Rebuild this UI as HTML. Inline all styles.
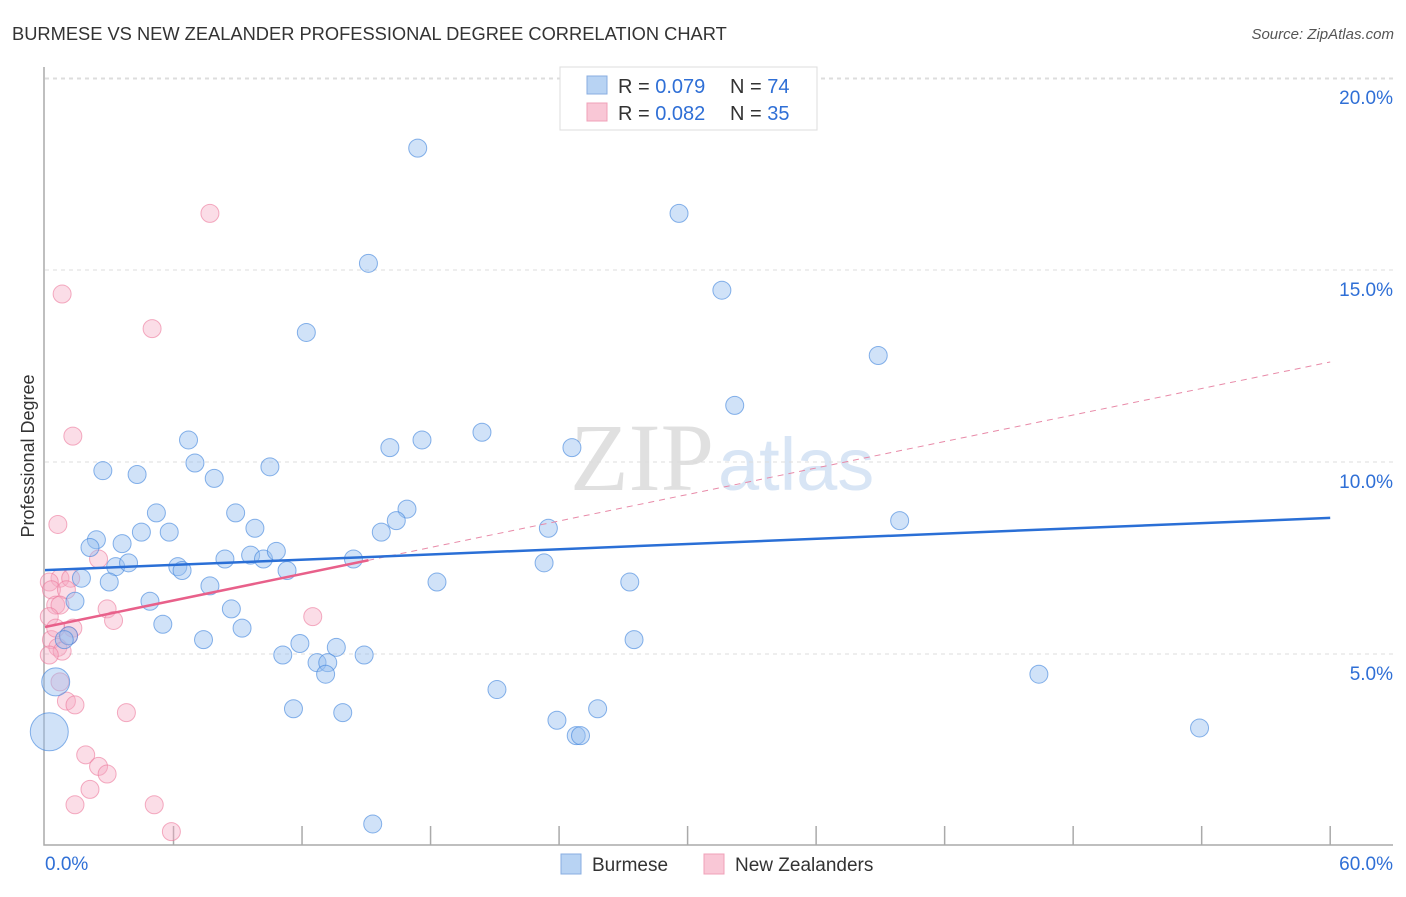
<!DOCTYPE html>
<html><head><meta charset="utf-8"><style>
body{margin:0;background:#fff;font-family:"Liberation Sans",sans-serif}
</style></head><body>
<svg width="1406" height="892" xmlns="http://www.w3.org/2000/svg">
<text x="12" y="40" font-size="18.3" fill="#333">BURMESE VS NEW ZEALANDER PROFESSIONAL DEGREE CORRELATION CHART</text>
<text x="1394" y="39" font-size="15" fill="#555" text-anchor="end" font-style="italic">Source: ZipAtlas.com</text>
<text x="714" y="490" font-size="96" fill="#e0e0e0" text-anchor="end" font-family="Liberation Serif">ZIP</text>
<text x="718" y="490" font-size="74" fill="#d8e5f5">atlas</text>
<g id="grid"></g><g id="axes"></g><g id="pts"></g><g id="lines"></g>
<text transform="translate(34,456) rotate(-90)" font-size="18" fill="#333" text-anchor="middle">Professional Degree</text>
<g>
<rect x="560" y="67" width="257" height="63" fill="#fff" stroke="#ddd"/>
<rect x="587" y="76" width="20" height="18" fill="#b8d3f3" stroke="#88aee0"/>
<rect x="587" y="103" width="20" height="18" fill="#f9c7d6" stroke="#f0a0b8"/>
<text x="618" y="93" font-size="20" fill="#333">R = <tspan fill="#2f6fd6">0.079</tspan></text>
<text x="730" y="93" font-size="20" fill="#333">N = <tspan fill="#2f6fd6">74</tspan></text>
<text x="618" y="120" font-size="20" fill="#333">R = <tspan fill="#2f6fd6">0.082</tspan></text>
<text x="730" y="120" font-size="20" fill="#333">N = <tspan fill="#2f6fd6">35</tspan></text>
</g>
<g>
<rect x="561" y="854" width="20" height="20" fill="#b8d3f3" stroke="#88aee0"/>
<text x="592" y="871" font-size="19" fill="#333">Burmese</text>
<rect x="704" y="854" width="20" height="20" fill="#f9c7d6" stroke="#f0a0b8"/>
<text x="735" y="871" font-size="19" fill="#333">New Zealanders</text>
</g>
</svg>
<script>
const yTicks=[5,10,15,20];
const yTickLabels=["5.0%","10.0%","15.0%","20.0%"];
const xTickLabels=["0.0%","60.0%"];
const blueX=[17.4,29.6,15.1,31.6,12.2,38.9,32.2,20.4,6.7,17.6,16.1,24.6,2.7,10.5,7.0,4.3,7.9,5.2,8.9,16.9,39.9,23.5,9.8,5.8,4.5,15.7,16.4,2.4,2.1,3.6,3.3,3.9,6.2,6.4,8.4,9.6,10.2,10.8,14.4,23.3,11.3,1.7,3.0,7.7,18.3,27.3,1.4,4.9,8.7,5.5,9.2,7.4,27.5,11.9,1.1,0.9,13.6,11.1,14.9,12.7,13.2,13.1,46.4,0.5,21.1,11.6,13.9,25.8,23.9,24.8,25.0,53.9,0.2,15.3];
const blueY=[18.2,16.5,15.2,14.5,13.4,12.8,11.5,10.8,10.6,10.6,10.4,10.4,9.8,9.9,10.0,9.7,9.6,8.7,8.7,8.8,8.5,8.3,8.3,8.2,8.2,8.2,8.5,8.0,7.8,7.9,7.3,7.4,7.3,7.2,7.5,7.6,7.5,7.7,7.5,7.4,7.2,7.0,6.9,6.8,6.9,6.9,6.4,6.4,6.2,5.8,5.7,5.4,5.4,5.3,5.5,5.4,5.2,5.0,5.0,4.8,4.8,4.5,4.5,4.3,4.1,3.6,3.5,3.6,3.3,2.9,2.9,3.1,3.0,0.6];
const blueR=[9,9,9,9,9,9,9,9,9,9,9,9,9,9,9,9,9,9,9,9,9,9,9,9,9,9,9,9,9,9,9,9,9,9,9,9,9,9,9,9,9,9,9,9,9,9,9,9,9,9,9,9,9,9,9,9,9,9,9,9,9,9,9,14,9,9,9,9,9,9,9,9,19,9];
const pinkX=[7.7,0.8,5.0,1.3,0.6,2.5,0.7,1.2,0.2,0.3,1.0,0.5,0.7,2.9,3.2,12.5,1.3,0.3,0.6,0.8,0.2,0.7,1.0,1.4,3.8,1.9,2.5,2.9,2.1,1.4,5.1,5.9,0.2,0.5,1.1];
const pinkY=[16.5,14.4,13.5,10.7,8.4,7.5,7.0,7.0,6.9,6.7,6.7,6.3,6.3,6.2,5.9,6.0,5.7,5.4,5.2,5.1,5.0,4.3,3.8,3.7,3.5,2.4,2.1,1.9,1.5,1.1,1.1,0.4,6.0,5.7,5.5];
const blueFit=[7.21,8.57];
const pinkFit=[5.73,12.63];
const NS="http://www.w3.org/2000/svg";
const X=v=>45+v*21.42, Y=v=>847-v*38.4;
function mk(t,a,p){const e=document.createElementNS(NS,t);for(const k in a)e.setAttribute(k,a[k]);document.getElementById(p).appendChild(e);return e;}
yTicks.forEach((t,i)=>{
 const l=mk('line',{x1:45,x2:1393,y1:Y(t)-1,y2:Y(t)-1,stroke:'#ddd','stroke-dasharray':'4,4'},'grid');
 
 
 const tx=mk('text',{x:1393,y:Y(t)+25,'font-size':19,fill:'#2f6fd6','text-anchor':'end'},'grid');tx.textContent=yTickLabels[i];
 
 
});
mk('line',{x1:45,x2:1393,y1:79,y2:79,stroke:'#ddd','stroke-dasharray':'4,4'},'grid');
const ax=mk('path',{d:'M44 67V845H1393',fill:'none',stroke:'#aaa','stroke-width':1.5},'axes');


for(let i=1;i<=10;i++){const t=mk('line',{x1:X(i*6),x2:X(i*6),y1:826,y2:845,stroke:'#aaa','stroke-width':1.5},'axes');
 
 }
[[0,'start',45],[60,'end',1393]].forEach((d,i)=>{const t=mk('text',{x:d[2],y:870,'font-size':19,fill:'#2f6fd6','text-anchor':d[1]},'axes');t.textContent=xTickLabels[i];
 
 });
pinkX.forEach((x,i)=>{const c=mk('circle',{cx:X(x),cy:Y(pinkY[i]),r:9,fill:'rgba(246,170,195,0.4)',stroke:'rgba(236,120,155,0.6)'},'pts');
 
 });
blueX.forEach((x,i)=>{const c=mk('circle',{cx:X(x),cy:Y(blueY[i]),r:blueR[i],fill:'rgba(150,190,240,0.45)',stroke:'rgba(60,130,220,0.6)'},'pts');
 
 });
const pd=mk('line',{x1:X(0),y1:Y(pinkFit[0]),x2:X(60),y2:Y(pinkFit[1]),stroke:'#e88aa8','stroke-dasharray':'6,5','stroke-width':1},'lines');


const f=15.1/60;
const ps=mk('line',{x1:X(0),y1:Y(pinkFit[0]),x2:X(15.1),y2:Y(pinkFit[0]+(pinkFit[1]-pinkFit[0])*f),stroke:'#e8608a','stroke-width':2.5},'lines');


const bl=mk('line',{x1:X(0),y1:Y(blueFit[0]),x2:X(60),y2:Y(blueFit[1]),stroke:'#2a6fd6','stroke-width':2.5},'lines');


</script>
</body></html>
